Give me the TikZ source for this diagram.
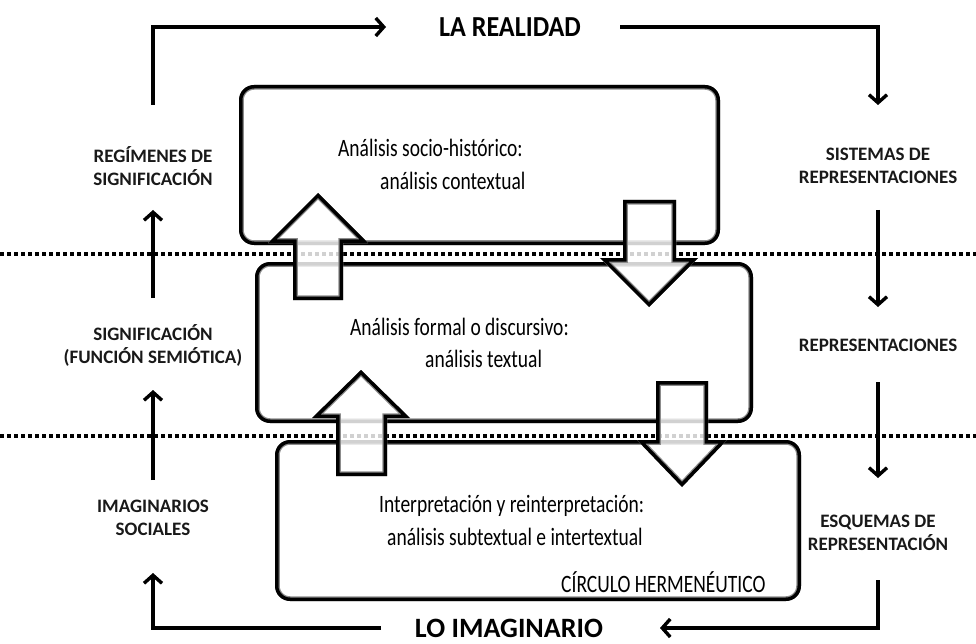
\documentclass[tikz,border=0pt]{standalone}
\usepackage{fontspec}
\setmainfont{Carlito}
\newfontfamily\condf[FakeStretch=0.78]{Carlito}
\newfontfamily\headf[FakeStretch=0.9]{Carlito}
\usetikzlibrary{arrows.meta}
\tikzset{
  lbl/.style={font=\fontsize{19}{23}\selectfont\bfseries, align=center, inner sep=0pt, text=black!90},
  big/.style={font=\headf\fontsize{29}{32}\selectfont\bfseries, inner sep=0pt},
  btxt/.style={font=\condf\fontsize{25}{28}\selectfont, anchor=base west, inner sep=0pt, text=black},
  arr/.style={line width=3.4pt, -{Straight Barb[length=8pt,width=18pt]}},
  dots/.style={line width=3.5pt, dash pattern=on 4pt off 3pt},
}
\newcommand\dblshape[2]{%
  \fill[white, fill opacity=#1] #2;
  \begin{scope}
    \clip #2;
    \draw[black!45, line width=9.5pt] #2;
    \draw[black, line width=7pt] #2;
  \end{scope}}
\begin{document}
\begin{tikzpicture}[x=1pt,y=-1pt]
\useasboundingbox (0,0) rectangle (976,644);

% boxes
\dblshape{1}{[rounded corners=15pt] (239,85) rectangle (720,245)}
\dblshape{1}{[rounded corners=15pt] (255,262) rectangle (753,423)}
\dblshape{1}{[rounded corners=15pt] (275,440) rectangle (801,601)}

% dotted separators
\draw[dots] (0,254) -- (976,254);
\draw[dots] (0,436) -- (976,436);

% box texts
\node[btxt] (t1a) at (338,157) {Análisis socio-histórico:};
\node[btxt] (t1b) at (380,190) {análisis contextual};
\node[btxt] (t2a) at (350,335) {Análisis formal o discursivo:};
\node[btxt] (t2b) at (425,367) {análisis textual};
\node[btxt] (t3a) at (379,512) {Interpretación y reinterpretación:};
\node[btxt] (t3b) at (387,545) {análisis subtextual e intertextual};
\node[btxt] (t3c) at (561,592) {CÍRCULO HERMENÉUTICO};

% block arrows
\dblshape{0.82}{(293,300) -- (293,243) -- (268,243) -- (318,193) -- (368,243) -- (343,243) -- (343,300) -- cycle}
\dblshape{0.82}{(623,200) -- (676,200) -- (676,258) -- (698,258) -- (649,307) -- (600,258) -- (623,258) -- cycle}
\dblshape{0.82}{(336,476) -- (336,418) -- (312,418) -- (361,370) -- (410,418) -- (387,418) -- (387,476) -- cycle}
\dblshape{0.82}{(656,381) -- (708,381) -- (708,440) -- (727,440) -- (682,487) -- (637,440) -- (656,440) -- cycle}

% outer labels
\node[big] (realidad) at (510,27) {LA REALIDAD};
\node[big, font=\fontsize{28}{32}\selectfont\bfseries] (imaginario) at (509,628) {LO IMAGINARIO};
\node[lbl] (regim) at (153,166) {REGÍMENES DE\\SIGNIFICACIÓN};
\node[lbl] (signif) at (153,345) {SIGNIFICACIÓN\\(FUNCIÓN SEMIÓTICA)};
\node[lbl] (imagsoc) at (153,518) {IMAGINARIOS\\SOCIALES};
\node[lbl] (sistemas) at (878,166) {SISTEMAS DE\\REPRESENTACIONES};
\node[lbl] (repres) at (878,345) {REPRESENTACIONES};
\node[lbl] (esquemas) at (878,533) {ESQUEMAS DE\\REPRESENTACIÓN};

% cycle connectors
\draw[arr, shorten <=61pt, shorten >=124pt] (regim.center) |- (realidad.center);
\draw[arr, shorten <=47pt, shorten >=44pt] (signif.center) -- (regim.center);
\draw[arr, shorten <=38pt, shorten >=45pt] (imagsoc.center) -- (signif.center);
\draw[arr, shorten <=128pt, shorten >=55pt] (imaginario.center) -| (imagsoc.center);
\draw[arr, shorten <=110pt, shorten >=61pt] (realidad.center) -| (sistemas.center);
\draw[arr, shorten <=44pt, shorten >=38pt] (sistemas.center) -- (repres.center);
\draw[arr, shorten <=37pt, shorten >=55pt] (repres.center) -- (esquemas.center);
\draw[arr, shorten <=47pt, shorten >=151pt] (esquemas.center) |- (imaginario.center);
\end{tikzpicture}
\end{document}
